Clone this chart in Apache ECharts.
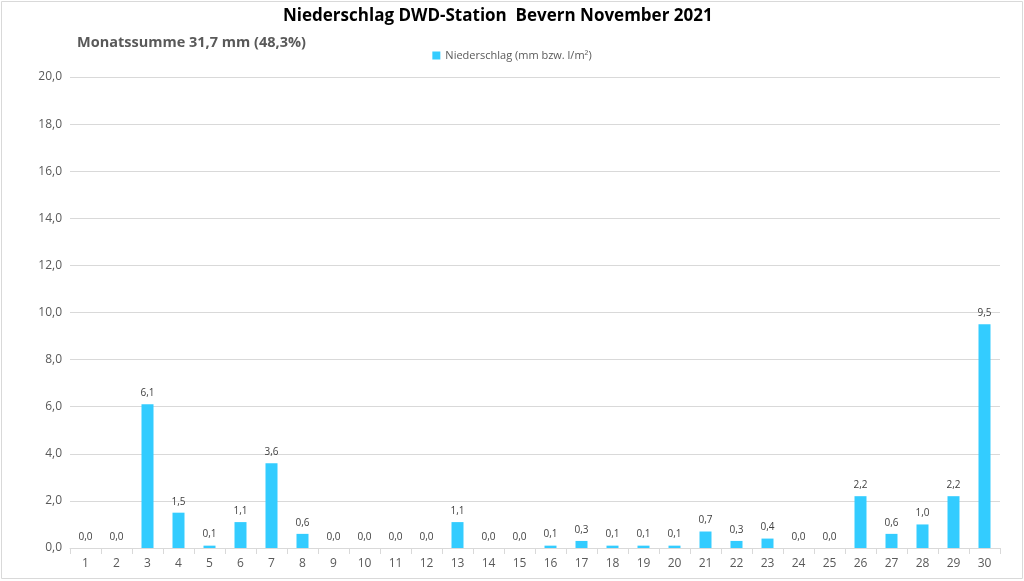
<!DOCTYPE html>
<html><head><meta charset="utf-8">
<script src="https://cdn.jsdelivr.net/npm/echarts@6/dist/echarts.min.js"></script>
<style>html,body{margin:0;padding:0;background:#fff}#c{width:1024px;height:581px}</style>
</head><body><div id="c"></div>
<script>
const days = ['1','2','3','4','5','6','7','8','9','10','11','12','13','14','15','16','17','18','19','20','21','22','23','24','25','26','27','28','29','30'];
const precip = [0.0,0.0,6.1,1.5,0.1,1.1,3.6,0.6,0.0,0.0,0.0,0.0,1.1,0.0,0.0,0.1,0.3,0.1,0.1,0.1,0.7,0.3,0.4,0.0,0.0,2.2,0.6,1.0,2.2,9.5];
const titleText = 'Niederschlag DWD-Station  Bevern November 2021';
const subText = 'Monatssumme 31,7 mm (48,3%)';
const seriesName = 'Niederschlag (mm bzw. l/m²)';
const fmt = v => v.toFixed(1).replace('.', ',');
const chart = echarts.init(document.getElementById('c'));
chart.setOption({
  animation: false,
  textStyle: {fontFamily: 'Open Sans'},
  graphic: [
    {type:'rect', shape:{x:1.5,y:1.5,width:1021,height:577}, style:{fill:'none', stroke:'#d9d9d9', lineWidth:1}},
    {type:'text', left:283, top:8, style:{text:titleText, font:'bold 17px "Open Sans"', fill:'#000'}},
    {type:'text', left:77, top:35, style:{text:subText, font:'bold 14.5px "Open Sans"', fill:'#595959'}}
  ],
  legend: {
    top: 45, left: 'center', itemWidth: 8, itemHeight: 8, icon: 'rect', itemGap: 4,
    textStyle: {fontSize: 11, color: '#595959'}, data: [seriesName]
  },
  grid: {left: 70, right: 24, top: 77, bottom: 33},
  xAxis: {
    type: 'category', data: days,
    axisLine: {lineStyle: {color: '#d9d9d9'}},
    axisTick: {show: true, length: 6, interval: 0, lineStyle: {color: '#d9d9d9'}},
    axisLabel: {color: '#595959', fontSize: 12, margin: 10, interval: 0}
  },
  yAxis: {
    type: 'value', min: 0, max: 20, interval: 2,
    axisLine: {show: false}, axisTick: {show: false},
    axisLabel: {color: '#595959', fontSize: 12, margin: 8, formatter: v => fmt(v)},
    splitLine: {lineStyle: {color: '#d9d9d9'}}
  },
  series: [{
    name: seriesName, type: 'bar', data: precip, barWidth: 12,
    itemStyle: {color: '#33ccff'},
    label: {show: true, position: 'top', distance: 6, fontSize: 10, color: '#404040', formatter: p => fmt(p.value)}
  }]
});
</script></body></html>
